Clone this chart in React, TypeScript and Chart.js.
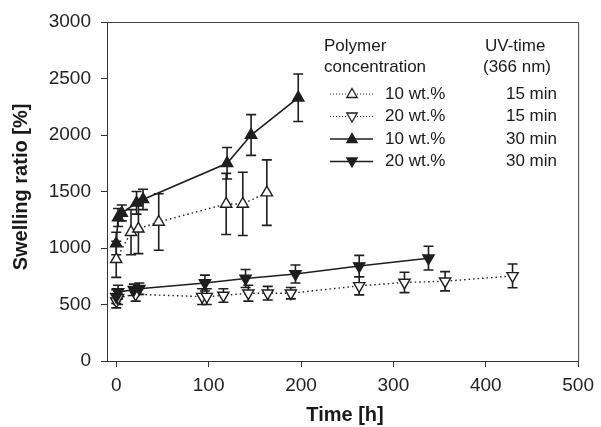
import React, { useEffect, useRef } from 'react';
import { Chart, registerables } from 'chart.js';
Chart.register(...registerables);

// 10 wt.%, 15 min (open up triangles)
const timeOpenUp = [0, 16, 24, 46, 119, 137, 163];
const valueOpenUp = [900, 1140, 1170, 1230, 1390, 1390, 1490];
const errOpenUp = [160, 200, 220, 250, 270, 280, 290];

// 20 wt.%, 15 min (open down triangles)
const timeOpenDown = [0, 2, 21, 93, 98, 116, 143, 164, 189, 263, 312, 356, 429];
const valueOpenDown = [530, 560, 590, 570, 570, 580, 600, 600, 600, 665, 695, 706, 753];
const errOpenDown = [60, 60, 60, 70, 70, 60, 70, 60, 50, 80, 90, 85, 105];

// 10 wt.%, 30 min (filled up triangles)
const timeFilledUp = [0, 2, 6, 22, 29, 120, 146, 197];
const valueFilledUp = [1040, 1270, 1310, 1400, 1430, 1750, 2000, 2330];
const errFilledUp = [100, 80, 70, 100, 90, 140, 180, 210];

// 20 wt.%, 30 min (filled down triangles)
const timeFilledDown = [0, 2, 19, 25, 96, 140, 194, 263, 338];
const valueFilledDown = [570, 610, 630, 640, 690, 730, 770, 840, 910];
const errFilledDown = [60, 60, 50, 50, 70, 80, 80, 95, 105];

const xTicks = [0, 100, 200, 300, 400, 500];
const yTicks = [0, 500, 1000, 1500, 2000, 2500, 3000];

const legendHeader = ['Polymer', 'concentration'];
const legendHeaderUV = ['UV-time', '(366 nm)'];
const legendConc = ['10 wt.%', '20 wt.%', '10 wt.%', '20 wt.%'];
const legendUV = ['15 min', '15 min', '30 min', '30 min'];

const INK = '#1e1e1e';
const FONT = "'Liberation Sans', Arial, Helvetica, sans-serif";

export default function App() {
  const ref = useRef<HTMLCanvasElement>(null);

  useEffect(() => {
    const canvas = ref.current!;
    const mk = (t: number[], v: number[], e: number[]) =>
      t.map((x, i) => ({ x, y: v[i], e: e[i] }));

    const errorBars = {
      id: 'errorBars',
      beforeDatasetsDraw(chart: any) {
        const { ctx } = chart;
        const xs = chart.scales.x;
        const ys = chart.scales.y;
        ctx.save();
        ctx.strokeStyle = INK;
        ctx.lineWidth = 1.6;
        chart.data.datasets.forEach((ds: any) => {
          ds.data.forEach((p: any) => {
            const px = xs.getPixelForValue(p.x);
            const top = ys.getPixelForValue(p.y + p.e);
            const bot = ys.getPixelForValue(p.y - p.e);
            ctx.beginPath();
            ctx.moveTo(px, top);
            ctx.lineTo(px, bot);
            ctx.moveTo(px - 5, top);
            ctx.lineTo(px + 5, top);
            ctx.moveTo(px - 5, bot);
            ctx.lineTo(px + 5, bot);
            ctx.stroke();
          });
        });
        ctx.restore();
      },
    };

    const tri = (ctx: any, x: number, y: number, r: number, down: boolean, filled: boolean) => {
      const s = down ? -1 : 1;
      ctx.beginPath();
      ctx.moveTo(x, y - s * r);
      ctx.lineTo(x + r * 0.866, y + s * r * 0.5);
      ctx.lineTo(x - r * 0.866, y + s * r * 0.5);
      ctx.closePath();
      ctx.fillStyle = filled ? INK : '#fff';
      ctx.fill();
      ctx.stroke();
    };

    const decor = {
      id: 'decor',
      afterDraw(chart: any) {
        const { ctx, chartArea: a } = chart;
        ctx.save();
        // frame top and right
        ctx.strokeStyle = '#444';
        ctx.lineWidth = 1;
        ctx.beginPath();
        ctx.moveTo(a.left, a.top + 0.5);
        ctx.lineTo(a.right + 0.5, a.top + 0.5);
        ctx.lineTo(a.right + 0.5, a.bottom);
        ctx.stroke();

        // axis titles
        ctx.fillStyle = '#1a1a1a';
        ctx.font = `bold 20px ${FONT}`;
        ctx.textAlign = 'center';
        ctx.textBaseline = 'middle';
        ctx.fillText('Time [h]', 345, 415);
        ctx.save();
        ctx.translate(21, 187);
        ctx.rotate(-Math.PI / 2);
        ctx.fillText('Swelling ratio [%]', 0, 0);
        ctx.restore();

        // legend
        ctx.font = `17px ${FONT}`;
        ctx.textAlign = 'left';
        ctx.fillText(legendHeader[0], 324, 46);
        ctx.fillText(legendHeader[1], 324, 67);
        ctx.fillText(legendHeaderUV[0], 485, 46);
        ctx.fillText(legendHeaderUV[1], 483, 67);
        const rows = [94, 116.5, 139, 161.5];
        const styles = [
          { down: false, filled: false, dash: true },
          { down: true, filled: false, dash: true },
          { down: false, filled: true, dash: false },
          { down: true, filled: true, dash: false },
        ];
        rows.forEach((ry, i) => {
          const st = styles[i];
          ctx.strokeStyle = INK;
          ctx.lineWidth = st.dash ? 1 : 1.6;
          ctx.setLineDash(st.dash ? [1, 2] : []);
          ctx.beginPath();
          ctx.moveTo(330, ry);
          ctx.lineTo(373, ry);
          ctx.stroke();
          ctx.setLineDash([]);
          ctx.lineWidth = 1.3;
          tri(ctx, 352, ry + (st.down ? -0.5 : 0.5), 6, st.down, st.filled);
          ctx.fillStyle = '#1a1a1a';
          ctx.textAlign = 'left';
          ctx.fillText(legendConc[i], 385, ry);
          ctx.textAlign = 'right';
          ctx.fillText(legendUV[i], 557, ry);
        });
        ctx.restore();
      },
    };

    const common = {
      showLine: true,
      borderColor: INK,
      pointBorderColor: INK,
      pointBorderWidth: 1.4,
      pointRadius: 6.5,
      pointHoverRadius: 6.5,
      pointStyle: 'triangle',
    };

    const chart = new Chart(canvas, {
      type: 'scatter',
      data: {
        datasets: [
          {
            ...common,
            label: '10 wt.% 30 min',
            data: mk(timeFilledUp, valueFilledUp, errFilledUp),
            borderWidth: 1.6,
            pointBackgroundColor: INK,
          },
          {
            ...common,
            label: '20 wt.% 30 min',
            data: mk(timeFilledDown, valueFilledDown, errFilledDown),
            borderWidth: 1.6,
            pointBackgroundColor: INK,
            pointRotation: 180,
          },
          {
            ...common,
            label: '10 wt.% 15 min',
            data: mk(timeOpenUp, valueOpenUp, errOpenUp),
            borderWidth: 1.4,
            borderDash: [1.5, 3],
            pointBackgroundColor: '#fff',
          },
          {
            ...common,
            label: '20 wt.% 15 min',
            data: mk(timeOpenDown, valueOpenDown, errOpenDown),
            borderWidth: 1.4,
            borderDash: [1.5, 3],
            pointBackgroundColor: '#fff',
            pointRotation: 180,
          },
        ] as any,
      },
      options: {
        animation: false,
        responsive: false,
        devicePixelRatio: 1,
        layout: { padding: { top: 22, right: 20, left: 0, bottom: 0 } },
        plugins: { legend: { display: false }, tooltip: { enabled: false } },
        scales: {
          x: {
            type: 'linear',
            min: -10,
            max: 500,
            afterBuildTicks: (s: any) => {
              s.ticks = xTicks.map((v) => ({ value: v }));
            },
            afterFit: (s: any) => {
              s.height = 66;
            },
            grid: {
              drawOnChartArea: false,
              drawTicks: true,
              tickLength: 6,
              tickColor: '#333',
              tickWidth: 1,
            },
            border: { display: true, color: '#333', width: 1 },
            ticks: {
              color: '#222',
              font: { family: FONT, size: 19 },
              padding: 7,
              maxRotation: 0,
              callback: (v: any) => String(v),
            },
          },
          y: {
            type: 'linear',
            min: 0,
            max: 3000,
            afterBuildTicks: (s: any) => {
              s.ticks = yTicks.map((v) => ({ value: v }));
            },
            afterFit: (s: any) => {
              s.width = 107;
            },
            grid: {
              drawOnChartArea: false,
              drawTicks: true,
              tickLength: 6,
              tickColor: '#333',
              tickWidth: 1,
            },
            border: { display: true, color: '#333', width: 1 },
            ticks: {
              color: '#222',
              font: { family: FONT, size: 19 },
              padding: 10,
              callback: (v: any) => String(v),
            },
          },
        },
      } as any,
      plugins: [errorBars, decor],
    });
    return () => chart.destroy();
  }, []);

  return (
    <div style={{ position: 'absolute', left: 0, top: 0, width: 601, height: 427, background: '#fff' }}>
      <canvas ref={ref} width={601} height={427} style={{ width: 601, height: 427, display: 'block' }} />
    </div>
  );
}
